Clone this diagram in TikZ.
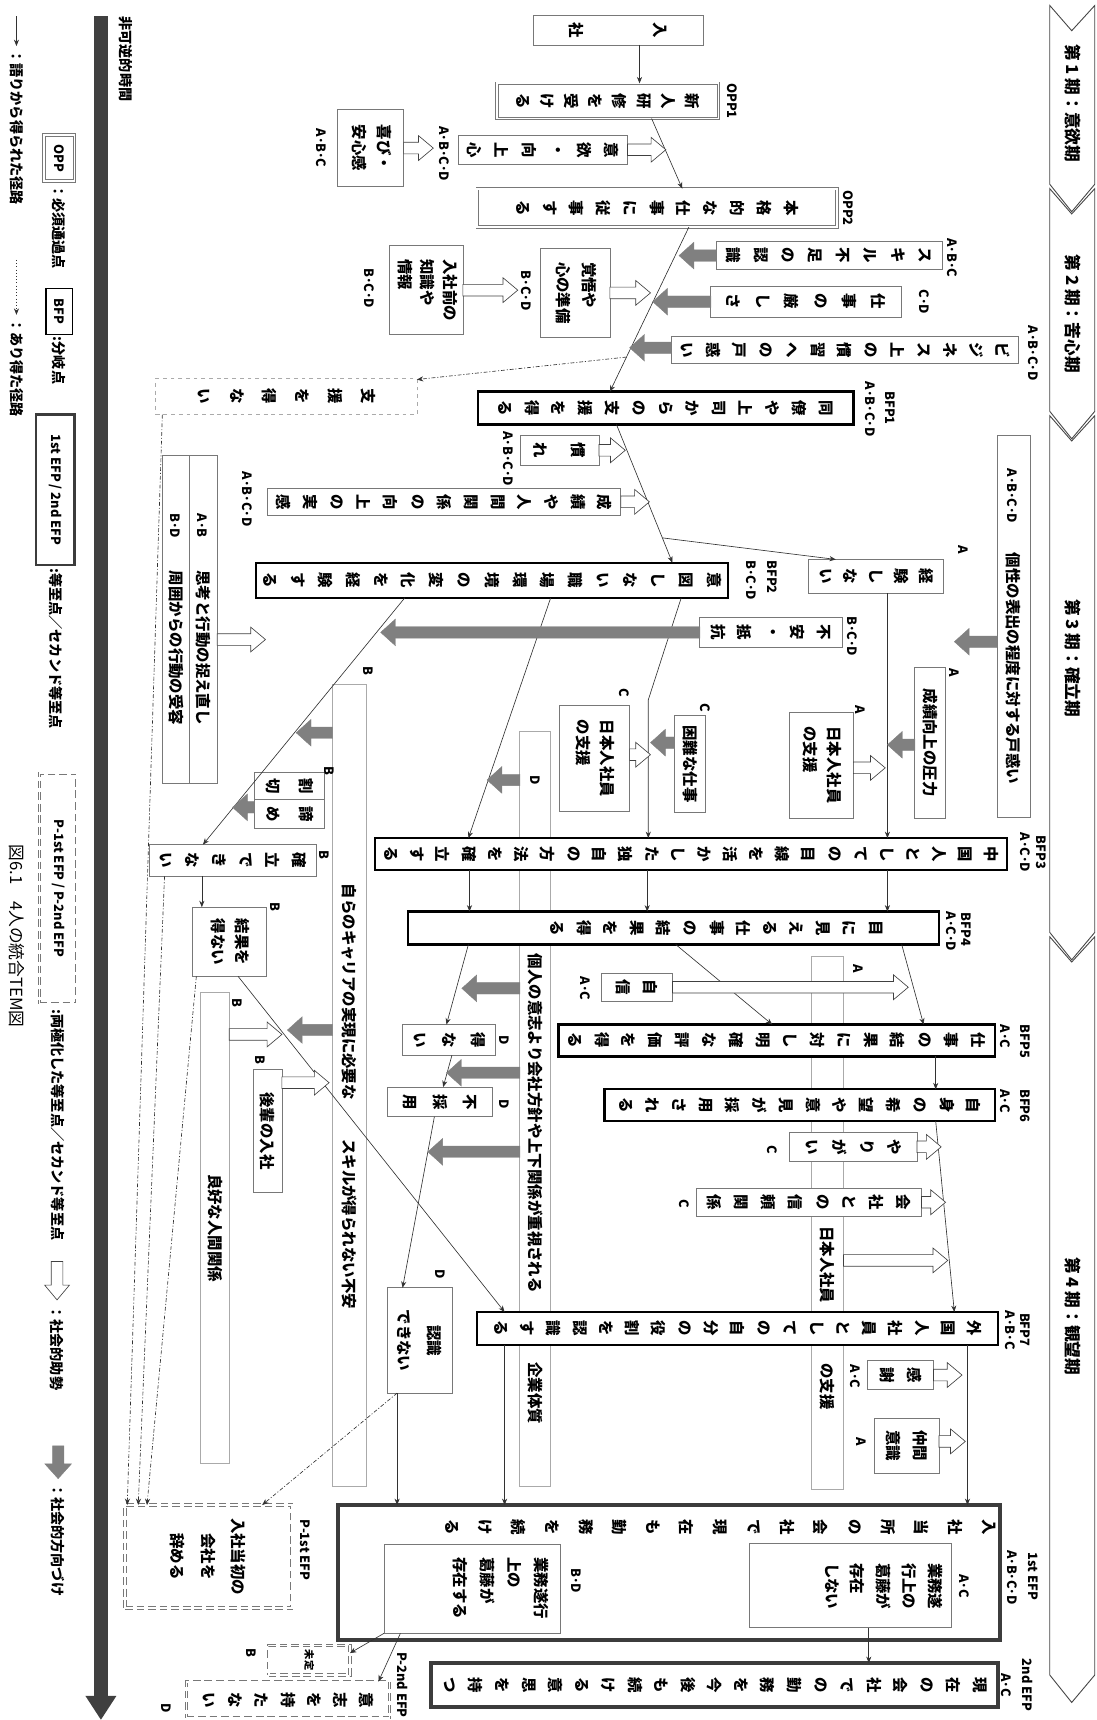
\documentclass[tikz,border=0pt]{standalone}
\usepackage{fontspec}
\setmainfont{Noto Sans CJK JP}
\usepackage{graphicx}
\usetikzlibrary{arrows.meta,shapes.arrows,calc}
\definecolor{boxgray}{RGB}{120,120,120}
\definecolor{tallgray}{RGB}{170,170,170}
\definecolor{dirgray}{RGB}{128,128,128}
\definecolor{pathcol}{RGB}{50,50,50}
\definecolor{efpcol}{RGB}{60,60,60}
\definecolor{timecol}{RGB}{64,64,64}
\definecolor{pergray}{RGB}{70,70,70}

\newdimen\ux \ux=0.3mm
\newcommand\jp{\fontsize{12}{14.4}\selectfont\bfseries}
\newcommand\lab{\fontsize{10}{12}\selectfont\bfseries}
\newcommand\per{\fontsize{13}{15.6}\selectfont\bfseries}
\newcommand\leg{\fontsize{11}{13.2}\selectfont\bfseries}
\newcommand\R[1]{\rotatebox{-90}{#1}}
\newcommand\yoko[2][1.45]{\rotatebox{-90}{\def\arraystretch{#1}\begin{tabular}{@{}l@{}}#2\end{tabular}}}
\newcommand\yokoc[2][1.45]{\rotatebox{-90}{\def\arraystretch{#1}\begin{tabular}{@{}c@{}}#2\end{tabular}}}
\ExplSyntaxOn
\NewDocumentCommand\tate{O{24}m}
  {
    \rotatebox{-90}
      {
        \vbox:n
          {
            \offinterlineskip
            \tl_map_inline:nn {#2}
              {
                \hbox_to_wd:nn {1.2em}
                  { \hss \vbox_to_ht:nn {#1\ux} { \vss \hbox:n {##1} \vss } \hss }
              }
          }
      }
  }
\ExplSyntaxOff

\begin{document}
\begin{tikzpicture}[
  x=0.3mm, y=-0.3mm,
  every node/.style={inner sep=0pt, outer sep=0pt, font=\jp},
  %% Box size in picture units
  wh/.style 2 args={minimum width=#1*\ux, minimum height=#2*\ux},
  %% Box styles
  ebox/.style={draw=boxgray, line width=0.6pt, fill=white},
  tbox/.style={draw=tallgray, line width=0.8pt, fill=white},
  nbox/.style={draw=tallgray, line width=0.5pt, dashed, fill=white},
  oppbox/.style={draw=boxgray, line width=0.6pt, double, double distance=1.4pt, fill=white},
  bfpbox/.style={draw=black, line width=1.8pt, fill=white},
  efpbox/.style={draw=efpcol, line width=3pt, fill=white},
  pbox/.style={draw=boxgray, line width=0.6pt, dash pattern=on 6pt off 3pt,
    double, double distance=1.4pt, fill=white},
  %% Who-labels
  who/.style={font=\lab},
  %% Path styles
  pth/.style={draw=pathcol, line width=0.5pt, -{Stealth[length=5pt,width=4pt]}},
  may/.style={draw=pathcol, line width=0.5pt,
    dash pattern=on 3pt off 1.5pt on 0.8pt off 1.5pt, -{Stealth[length=5pt,width=4pt]}},
  %% Social guidance (white) and social direction (gray)
  sgd/.style={single arrow, draw=black!75, fill=white, line width=0.5pt,
    inner ysep=1.5mm, minimum width=22*\ux, single arrow head extend=1.8mm,
    single arrow tip angle=80, minimum height=#1*\ux, anchor=tail},
  sdr/.style={single arrow, draw=dirgray, fill=dirgray, line width=0.3pt,
    inner ysep=1.5mm, minimum width=24*\ux, single arrow head extend=2.1mm,
    single arrow tip angle=84, minimum height=#1*\ux, shape border rotate=180, anchor=tail},
  %% Period band
  period/.style={draw=pergray, line width=0.7pt, fill=white},
]
\useasboundingbox (0,0) rectangle (1000,1568);

%% =============================================================
%%  Period bands (right)
%% =============================================================
\foreach \ptop/\pbot in {5/168,172/375,379/850,854/1527}
  \draw[period] (957,\ptop) -- (977,\ptop+23) -- (998,\ptop) -- (998,\pbot)
    -- (977,\pbot+25) -- (957,\pbot) -- cycle;
\node[font=\per] (per1) at (978,94)   {\R{第 1 期：意欲期}};
\node[font=\per] (per2) at (978,286)  {\R{第 2 期：苦心期}};
\node[font=\per] (per3) at (978,600)  {\R{第 3 期：確立期}};
\node[font=\per] (per4) at (978,1200) {\R{第 4 期：観望期}};

%% =============================================================
%%  Long background boxes
%% =============================================================
\node[tbox, wh={31}{731}] (career) at (318.5,989.5) {};
\node (careertx) at (318.5,999.5)
    {\R{自らのキャリアの実現に必要な\hspace{36\ux}スキルが得られない不安}};
\node[who] (careerw) at (336,612) {\R{B}};

\node[tbox, wh={28}{688}] (kojin) at (488,1011) {};
\node[who] (kojinw) at (488,711) {\R{D}};
\node (kojintx) at (488,1024) {\R{個人の意志より会社方針や上下関係が重視される}};
\node (kojintx2) at (488,1270) {\R{企業体質}};

\node[tbox, wh={29}{486}] (nihon2) at (754.5,1115) {};
\node (nihon2tx) at (754.5,1153) {\R{日本人社員}};
\node (nihon2tx2) at (754.5,1264) {\R{の支援}};
\node[who] (nihon2w) at (782,883) {\R{A}};

\node[tbox, wh={26}{429}] (ryoukou) at (196,1119.5) {\R{良好な人間関係}};
\node[who] (ryoukouw) at (216,914) {\R{B}};

%% =============================================================
%%  Period 1
%% =============================================================
\node[ebox, wh={155}{27}] (nyusha) at (563.5,27.5) {\tate[77]{入社}};
\node[oppbox, wh={202}{32}] (opp1) at (554,92) {\tate[22]{新人研修を受ける}};
\node[who] (opp1w) at (668,92) {\R{OPP1}};
\node[ebox, wh={154}{27}] (iyoku) at (495,136.5) {\tate[25]{意欲・向上心}};
\node[who] (iyokuw) at (405,140) {\R{A･B･C･D}};
\node[ebox, wh={60}{70}] (yorokobi) at (338,135) {\yoko[1.35]{喜び・\\安心感}};
\node[who] (yorokobiw) at (293,135) {\R{A･B･C}};
\node[oppbox, wh={328}{35}] (opp2) at (599,189.5) {\tate[24.4]{本格的な仕事に従事する}};
\node[who] (opp2w) at (773,189.5) {\R{OPP2}};

%% =============================================================
%%  Period 2
%% =============================================================
\node[ebox, wh={206}{26}] (skill) at (756,233) {\tate[25]{スキル不足の認識}};
\node[who] (skillw) at (868,235) {\R{A･B･C}};
\node[ebox, wh={174}{28}] (kibishisa) at (735,275) {\tate[26.4]{仕事の厳しさ}};
\node[who] (kibishisaw) at (843,275) {\R{C･D}};
\node[ebox, wh={316}{24}] (business) at (770,319) {\tate[24]{ビジネス上の慣習への戸惑い}};
\node[who] (businessw) at (942,322) {\R{A･B･C･D}};
\node[ebox, wh={63}{82}] (kakugo) at (524.5,267) {\yoko[1.4]{覚悟や\\心の準備}};
\node[who] (kakugow) at (480,265) {\R{B･C･D}};
\node[ebox, wh={67}{81}] (nyushamae) at (388.5,264.5) {\yoko[1.22]{入社前の\\知識や\\情報}};
\node[who] (nyushamaew) at (337,263) {\R{B･C･D}};
\node[nbox, wh={238}{33}] (shienenai) at (261,361.5) {\tate[30]{支援を得ない}};
\node[bfpbox, wh={342}{30}] (bfp1) at (607,372) {\tate[24.4]{同僚や上司からの支援を得る}};
\node[who] (bfp1n) at (812,372) {\R{BFP1}};
\node[who] (bfp1w) at (793,373) {\R{A･B･C･D}};

%% =============================================================
%%  Period 3
%% =============================================================
\node[ebox, wh={72}{27}] (nare) at (510,410.5) {\tate[35]{慣れ}};
\node[who] (narew) at (463,418) {\R{A･B･C･D}};
\node[ebox, wh={322}{25}] (seiseki) at (405,457.5) {\tate[24.4]{成績や人間関係の向上の実感}};
\node[who] (seisekiw) at (225,455) {\R{A･B･C･D}};
\node[ebox, wh={123}{31}] (keiken) at (798.5,525.5) {\tate[23]{経験しない}};
\node[who] (keikenw) at (878,501) {\R{A}};
\node[ebox, wh={30}{348}] (kosei) at (924,571)
    {\R{{\lab A･B･C･D}\hspace{27\ux}個性の表出の程度に対する戸惑い}};
\node[ebox, wh={28}{138}] (atsuryoku) at (848,677) {\R{成績向上の圧力}};
\node[who] (atsuryokuw) at (870,613) {\R{A}};
\node[ebox, wh={58}{97}] (nihon1) at (749,697.5) {\yoko[1.3]{日本人社員\\の支援}};
\node[who] (nihon1w) at (784,647) {\R{A}};
\node[bfpbox, wh={423}{32}] (bfp2) at (448.5,529) {\tate[25.3]{意図しない職場環境の変化を経験する}};
\node[who] (bfp2n) at (704,526) {\R{BFP2}};
\node[who] (bfp2w) at (685,529) {\R{B･C･D}};
\node[ebox, wh={130}{27}] (fuan) at (703,576.5) {\tate[24]{不安・抵抗}};
\node[who] (fuanw) at (777,580) {\R{B･C･D}};
\node[ebox, wh={25}{299}] (shikou) at (185.5,564.5)
    {\R{{\lab A･B}\hspace{30\ux}思考と行動の捉え直し}};
\node[ebox, wh={25}{299}] (shuui) at (160.5,564.5)
    {\R{{\lab B･D}\hspace{30\ux}周囲からの行動の受容}};
\node[ebox, wh={28}{89}] (konnan) at (629,696.5) {\R{困難な仕事}};
\node[who] (konnanw) at (643,645) {\R{C}};
\node[ebox, wh={64}{97}] (nihon3) at (542,691.5) {\yoko[1.3]{日本人社員\\の支援}};
\node[who] (nihon3w) at (569,632) {\R{C}};
\node[ebox, wh={64}{25}] (warikiri) at (264,716.5) {\tate[30]{割切}};
\node[ebox, wh={64}{26}] (akirame) at (264,742) {\tate[30]{諦め}};
\node[who] (warikiriw) at (300,703) {\R{B}};
\node[ebox, wh={152}{29}] (kakuritsu) at (212,784.5) {\tate[24.2]{確立できない}};
\node[who] (kakuritsuw) at (296,779) {\R{B}};
\node[ebox, wh={68}{63}] (kekka) at (209,858.5) {\yoko[1.3]{結果を\\得ない}};
\node[who] (kekkaw) at (251,827) {\R{B}};

%% =============================================================
%%  Period 4
%% =============================================================
\node[bfpbox, wh={576}{29}] (bfp3) at (630,778.5)
    {\tate[23.8]{中国人としての目線を活かした独自の方法を確立する}};
\node[who, anchor=north] (bfp3n) at (949,762) {\R{BFP3}};
\node[who, anchor=north] (bfp3w) at (935,759) {\R{A･C･D}};
\node[bfpbox, wh={484}{30}] (bfp4) at (614,846) {};
\node (bfp4tx) at (653.5,846) {\tate[24.2]{目に見える仕事の結果を得る}};
\node[who, anchor=north] (bfp4n) at (881,832) {\R{BFP4}};
\node[who, anchor=north] (bfp4w) at (867,831) {\R{A･C･D}};
\node[ebox, wh={65}{26}] (jishin) at (580.5,900) {\tate[25]{自信}};
\node[who] (jishinw) at (534,901) {\R{A･C}};
\node[ebox, wh={26}{112}] (kouhai) at (244,1031) {\R{後輩の入社}};
\node[who] (kouhaiw) at (237,966) {\R{B}};
\node[ebox, wh={85}{28}] (toenai) at (409.5,948) {\tate[27]{得ない}};
\node[who] (toenaiw) at (460,948) {\R{D}};
\node[ebox, wh={96}{27}] (fusaiyou) at (401,1004.5) {\tate[27]{不採用}};
\node[who] (fusaiyouw) at (460,1007) {\R{D}};
\node[bfpbox, wh={398}{29}] (bfp5) at (708,948.5) {\tate[24.5]{仕事の結果に対し明確な評価を得る}};
\node[who, anchor=north] (bfp5n) at (935,934) {\R{BFP5}};
\node[who, anchor=north] (bfp5w) at (916,934) {\R{A･C}};
\node[bfpbox, wh={356}{29}] (bfp6) at (729,1007.5) {\tate[24.4]{自身の希望や意見が採用される}};
\node[who, anchor=north] (bfp6n) at (935,993) {\R{BFP6}};
\node[who, anchor=north] (bfp6w) at (916,993) {\R{A･C}};
\node[ebox, wh={116}{27}] (yarigai) at (778,1045.5) {\tate[25]{やりがい}};
\node[who] (yarigaiw) at (704,1048) {\R{C}};
\node[ebox, wh={205}{26}] (shinrai) at (737.5,1096) {\tate[24.7]{会社との信頼関係}};
\node[who] (shinraiw) at (624,1097) {\R{C}};
\node[bfpbox, wh={475}{30}] (bfp7) at (672.5,1211) {\tate[24]{外国人社員としての自分の役割を認識する}};
\node[who, anchor=north] (bfp7n) at (935,1197) {\R{BFP7}};
\node[who, anchor=north] (bfp7w) at (921,1195) {\R{A･B･C}};
\node[ebox, wh={59}{96}] (ninshiki) at (382.5,1222) {\yokoc[1.6]{認識\\できない}};
\node[who] (ninshikiw) at (401,1162) {\R{D}};
\node[ebox, wh={60}{27}] (kansha) at (821,1253.5) {\tate[25]{感謝}};
\node[who] (kanshaw) at (780,1255) {\R{A･C}};
\node[ebox, wh={59}{50}] (nakama) at (826.5,1318) {\yoko[1.45]{仲間\\意識}};
\node[who] (nakamaw) at (785,1314) {\R{A}};

%% =============================================================
%%  Equifinality points
%% =============================================================
\node[efpbox, wh={604}{123}] (efp1) at (610,1433.5) {};
\node (efp1tx) at (656.5,1392) {\tate[30.6]{入社当所の会社で現在も勤務を続ける}};
\node[ebox, wh={184}{77}] (efp1r) at (775,1445.5) {};
\node (efp1rtx) at (805,1446) {\yoko[1.4]{業務遂\\行上の\\葛藤が\\存在\\しない}};
\node[who] (efp1rw) at (879,1446) {\R{A･C}};
\node[ebox, wh={161}{81}] (efp1l) at (430.5,1448.5) {};
\node (efp1ltx) at (456,1448) {\yoko[1.45]{業務遂行\\上の\\葛藤が\\存在する}};
\node[who] (efp1lw) at (525,1441) {\R{B･D}};
\node[who] (efp1n) at (942,1437) {\R{1st EFP}};
\node[who] (efp1w) at (923,1438) {\R{A･B･C･D}};

\node[pbox, wh={152}{94}] (pefp1) at (190,1419) {\yokoc[1.65]{入社当初の\\会社を\\辞める}};
\node[who] (pefp1n) at (278,1413) {\R{P-1st EFP}};

\node[efpbox, wh={517}{40}] (efp2) at (651.5,1536)
    {\tate[24.2]{現在の会社での勤務を今後も続ける意思を持つ}};
\node[who] (efp2n) at (937,1536) {\R{2nd EFP}};
\node[who] (efp2w) at (917,1536) {\R{A･C}};
\node[pbox, wh={74}{27}] (mitei) at (282,1513.5) {\R{\fontsize{8}{9}\selectfont 未定}};
\node[who] (miteiw) at (229,1507) {\R{B}};
\node[pbox, wh={185}{33}] (ishi) at (262.5,1549.5) {\tate[24]{意志を持たない}};
\node[who] (ishiw) at (152,1557) {\R{D}};
\node[who] (pefp2n) at (367,1536) {\R{P-2nd EFP}};

%% =============================================================
%%  Paths (from the narratives)
%% =============================================================
\draw[pth] (nyusha.south -| 583,0) -- (opp1.north -| 583,0);
\draw[pth] (opp1.south -| 594,0) -- (opp2.north -| 622,0);
\draw[pth] (opp2.south -| 628,0) -- (bfp1.north -| 556,0);
\draw[pth] (bfp1.south -| 562,0) -- (bfp2.north -| 613,0);
\coordinate (br1) at ($(bfp1.south -| 562,0)!0.82!(bfp2.north -| 613,0)$);
\draw[pth] (br1) -- (keiken.north -| 762,0);
\draw[pth] (keiken.south -| 809,0) -- (bfp3.north -| 809,0);
\draw[pth] (bfp2.south -| 369,0) -- (kakuritsu.north -| 185,0);
\draw[pth] (bfp2.south -| 502,0) -- (bfp3.north -| 427,0);
\coordinate (bend1) at (591,638);
\draw[pth] (bfp2.south -| 621,0) -- (bend1) -- (bfp3.north -| 591,0);
\foreach \xx in {428,590,809}
  \draw[pth] (bfp3.south -| \xx,0) -- (bfp4.north -| \xx,0);
\draw[pth] (kakuritsu.south -| 184,0) -- (kekka.north -| 184,0);
\draw[pth] (kekka.south -| 217,0) -- (bfp7.north -| 460,0);
\draw[pth] (bfp4.south -| 427,0) -- (toenai.north -| 407,0);
\draw[pth] (bfp4.south -| 616,0) -- (bfp5.north -| 704,0);
\draw[pth] (bfp4.south -| 822,0) -- (bfp5.north -| 842,0);
\draw[pth] (toenai.south -| 412,0) -- (fusaiyou.north -| 404,0);
\draw[pth] (fusaiyou.south -| 396,0) -- (ninshiki.north -| 367,0);
\draw[pth] (bfp5.south -| 853,0) -- (bfp6.north -| 853,0);
\draw[pth] (bfp6.south -| 853,0) -- (bfp7.north -| 870,0);
\draw[pth] (bfp7.south -| 460,0) -- (efp1.north -| 460,0);
\draw[pth] (bfp7.south -| 882,0) -- (efp1.north -| 882,0);
\draw[pth] (ninshiki.south -| 362,0) -- (efp1.north -| 362,0);
\draw[pth] (efp1r.south -| 792,0) -- (efp2.north -| 792,0);
\draw[pth] (efp1l.south -| 350,0) -- (mitei.east |- 0,1507);
\draw[pth] (efp1l.south -| 365,0) -- (ishi.north -| 345,0);

%% Possible paths
\coordinate (br2) at ($(opp2.south -| 628,0)!0.79!(bfp1.north -| 556,0)$);
\draw[may] (br2) -- (shienenai.east |- 0,346);
\draw[may] (shienenai.south -| 148,0) -- (pefp1.north -| 116,0);
\draw[may] (kakuritsu.south -| 150,0) -- (pefp1.north -| 126,0);
\draw[may] (kekka.south -| 179,0) -- (pefp1.north -| 134,0);
\draw[may] (ninshiki.south -| 362,0) -- (pefp1.north -| 239,0);

%% =============================================================
%%  Social guidance (white) and social direction (gray)
%% =============================================================
\node[sgd=27]  (sg1)  at (yorokobi.east) {};
\node[sgd=35]  (sg2)  at (iyoku.east) {};
\node[sgd=37]  (sg3)  at (kakugo.east) {};
\node[sgd=50]  (sg4)  at (nyushamae.east) {};
\node[sgd=24]  (sg5)  at (nare.east) {};
\node[sgd=26]  (sg6)  at (seiseki.east) {};
\node[sgd=44]  (sg7)  at (shikou.east |- 0,583) {};
\node[sgd=19]  (sg8)  at (nihon3.east |- 0,688) {};
\node[sgd=29]  (sg9)  at (nihon1.east |- 0,700) {};
\node[sgd=215] (sg10) at (jishin.east) {};
\node[sgd=48]  (sg11) at (ryoukou.east |- 0,943) {};
\node[sgd=43]  (sg12) at (kouhai.east |- 0,987) {};
\node[sgd=22]  (sg13) at (yarigai.east) {};
\node[sgd=22]  (sg14) at (shinrai.east) {};
\node[sgd=95]  (sg15) at (nihon2.east |- 0,1149) {};
\node[sgd=26]  (sg16) at (kansha.east) {};
\node[sgd=24]  (sg17) at (nakama.east |- 0,1314) {};

\node[sdr=34]  (sd1)  at (skill.west) {};
\node[sdr=53]  (sd2)  at (kibishisa.west) {};
\node[sdr=38]  (sd3)  at (business.west |- 0,317) {};
\node[sdr=39]  (sd4)  at (kosei.west |- 0,585) {};
\node[sdr=291] (sd5)  at (fuan.west) {};
\node[sdr=33]  (sd6)  at (career.west |- 0,668) {};
\node[sdr=20]  (sd7)  at (akirame.west |- 0,736) {};
\node[sdr=30]  (sd8)  at (kojin.west |- 0,711) {};
\node[sdr=25]  (sd9)  at (atsuryoku.west |- 0,679) {};
\node[sdr=22]  (sd10) at (konnan.west |- 0,677) {};
\node[sdr=41]  (sd11) at (career.west |- 0,939) {};
\node[sdr=53]  (sd12) at (kojin.west |- 0,901) {};
\node[sdr=67]  (sd13) at (kojin.west |- 0,978) {};
\node[sdr=84]  (sd14) at (kojin.west |- 0,1050) {};

%% =============================================================
%%  Legend and time axis (left)
%% =============================================================
\coordinate (t0) at (92,15);
\coordinate (t1) at (92,1568);
\draw[draw=timecol, line width=3.6mm, -{Triangle[width=8mm,length=6.6mm]}] (t0) -- (t1);
\node[font=\leg, anchor=north] (timelab) at (115,15) {\R{非可逆的時間}};

\node[oppbox, wh={28}{42}] (lgopp) at (54,144) {\R{\lab OPP}};
\node[font=\leg, anchor=north] (lgopptx) at (54,168) {\R{：必須通過点}};
\node[draw=black, line width=1pt, wh={24}{42}] (lgbfp) at (54,284) {\R{\lab BFP}};
\node[font=\leg, anchor=north] (lgbfptx) at (54,307) {\R{:分岐点}};
\node[draw=efpcol, line width=2pt, wh={35}{137}] (lgefp) at (50.5,446.5) {\R{\lab 1st EFP / 2nd EFP}};
\node[font=\leg, anchor=north] (lgefptx) at (51,518) {\R{:等至点／セカンド等至点}};
\node[pbox, wh={34}{210}] (lgpefp) at (53,810) {\R{\lab P-1st EFP / P-2nd EFP}};
\node[font=\leg, anchor=north] (lgpefptx) at (53,920) {\R{:両極化した等至点／セカンド等至点}};
\node[sgd=35, inner sep=1.5mm, shape border rotate=270] (lgsg) at (52,1150) {};
\node[font=\leg, anchor=north] (lgsgtx) at (52,1190) {\R{：社会的助勢}};
\node[sdr=30, inner sep=1.5mm, shape border rotate=270] (lgsd) at (53,1318) {};
\node[font=\leg, anchor=north] (lgsdtx) at (53,1352) {\R{：社会的方向づけ}};

\coordinate (lg1a) at (15,15);
\coordinate (lg1b) at (15,42);
\draw[pth] (lg1a) -- (lg1b);
\node[font=\leg, anchor=north] (lg1tx) at (15,45) {\R{：語りから得られた径路}};
\coordinate (lg2a) at (15,237);
\coordinate (lg2b) at (15,287);
\draw[pth, dotted] (lg2a) -- (lg2b);
\node[font=\leg, anchor=north] (lg2tx) at (15,290) {\R{：あり得た径路}};
\node[font=\fontsize{13}{15}\selectfont, anchor=north] (caption) at (15,770)
    {\R{図6.1　4人の統合TEM図}};

\end{tikzpicture}
\end{document}
